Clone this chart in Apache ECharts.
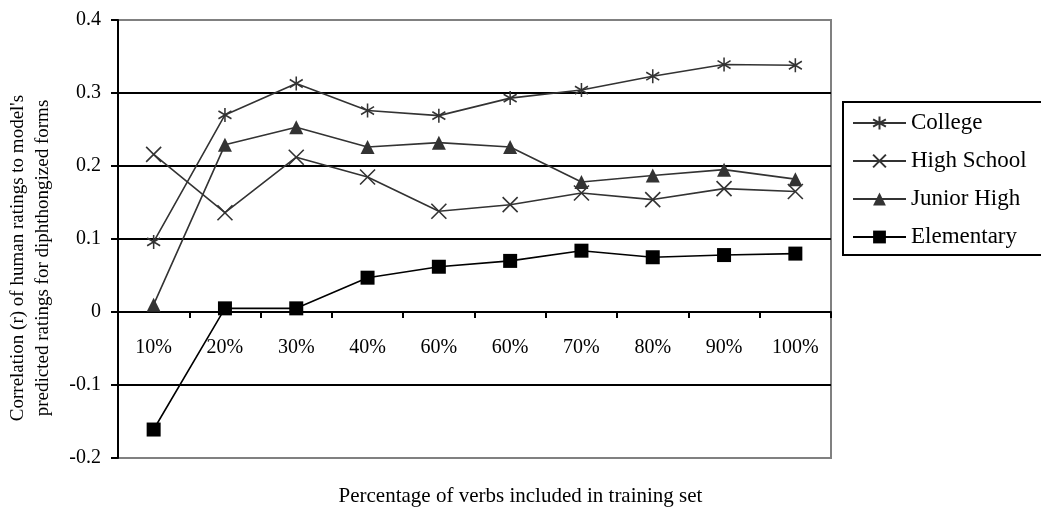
<!DOCTYPE html>
<html>
<head>
<meta charset="utf-8">
<script src="https://cdn.jsdelivr.net/npm/echarts@6/dist/echarts.min.js"></script>
<style>html,body{margin:0;padding:0;background:#fff}#c{width:1041px;height:508px}</style>
</head>
<body>
<div id="c"></div>
<script>
const categories = ['10%', '20%', '30%', '40%', '60%', '60%', '70%', '80%', '90%', '100%'];
const college    = [0.096, 0.270, 0.313, 0.276, 0.269, 0.293, 0.304, 0.323, 0.339, 0.338];
const highSchool = [0.216, 0.136, 0.212, 0.185, 0.138, 0.147, 0.163, 0.154, 0.169, 0.165];
const juniorHigh = [0.010, 0.229, 0.253, 0.226, 0.232, 0.226, 0.178, 0.187, 0.195, 0.182];
const elementary = [-0.161, 0.005, 0.005, 0.047, 0.062, 0.070, 0.084, 0.075, 0.078, 0.080];
const seriesNames = ['College', 'High School', 'Junior High', 'Elementary'];
const yTitle = "Correlation (r) of human ratings to model's\npredicted ratings for diphthongized forms";
const xTitle = 'Percentage of verbs included in training set';

const FONT = '"Liberation Serif", "Times New Roman", serif';
const STAR = 'path://M5,0L5,10M0,2.2L10,7.8M0,7.8L10,2.2';
const CROSS = 'path://M0,0L10,10M0,10L10,0';

function strokeSeries(name, data, symbol, size) {
  return {
    name, type: 'line', data, symbol, symbolSize: size,
    lineStyle: { color: '#333', width: 1.6 },
    itemStyle: { color: 'rgba(0,0,0,0)', borderColor: '#333', borderWidth: 1.6 },
    emphasis: { disabled: true }
  };
}

const chart = echarts.init(document.getElementById('c'), null, { renderer: 'canvas' });
chart.setOption({
  animation: false,
  backgroundColor: '#fff',
  textStyle: { fontFamily: FONT },
  grid: { left: 118, right: 210, top: 20, bottom: 50, show: true, borderColor: '#808080', borderWidth: 2, backgroundColor: 'transparent' },
  legend: {
    orient: 'vertical', left: 843, top: 102,
    padding: [9, 22, 6, 9],
    itemWidth: 53, itemHeight: 16, itemGap: 14,
    borderColor: '#000', borderWidth: 2,
    textStyle: { fontFamily: FONT, fontSize: 23, color: '#000', lineHeight: 24 },
    data: seriesNames
  },
  xAxis: {
    type: 'category', data: categories, boundaryGap: true,
    axisLine: { onZero: true, lineStyle: { color: '#000', width: 2 } },
    axisTick: { show: true, length: 6, lineStyle: { color: '#000', width: 2 } },
    axisLabel: { interval: 0, margin: -120, color: '#000', fontSize: 20, fontFamily: FONT },
    splitLine: { show: false }
  },
  yAxis: {
    type: 'value', min: -0.2, max: 0.4, interval: 0.1,
    axisLine: { show: true, onZero: false, lineStyle: { color: '#000', width: 2 } },
    axisTick: { show: true, length: 7, lineStyle: { color: '#000', width: 2 } },
    axisLabel: { margin: 17, color: '#000', fontSize: 20, fontFamily: FONT,
      formatter: v => (Math.round(v * 10) / 10).toString() },
    splitLine: { show: true, showMinLine: false, showMaxLine: false, lineStyle: { color: '#000', width: 2 } }
  },
  graphic: [
    { type: 'text', left: 'center', x: 0, top: 486,
      style: { text: xTitle, font: '21px ' + FONT, fill: '#000' }, silent: true, z: 10 },
    { type: 'text', x: 31, y: 258, rotation: Math.PI / 2,
      style: { text: yTitle, font: '19px ' + FONT, fill: '#000', align: 'center', verticalAlign: 'middle', lineHeight: 25 },
      silent: true, z: 10 }
  ],
  series: [
    strokeSeries('College', college, STAR, [13, 14]),
    strokeSeries('High School', highSchool, CROSS, [15, 15]),
    { name: 'Junior High', type: 'line', data: juniorHigh, symbol: 'triangle', symbolSize: 14,
      lineStyle: { color: '#333', width: 1.6 }, itemStyle: { color: '#333' }, emphasis: { disabled: true } },
    { name: 'Elementary', type: 'line', data: elementary, symbol: 'rect', symbolSize: 14,
      lineStyle: { color: '#000', width: 1.6 }, itemStyle: { color: '#000' }, emphasis: { disabled: true } }
  ]
});
</script>
</body>
</html>
